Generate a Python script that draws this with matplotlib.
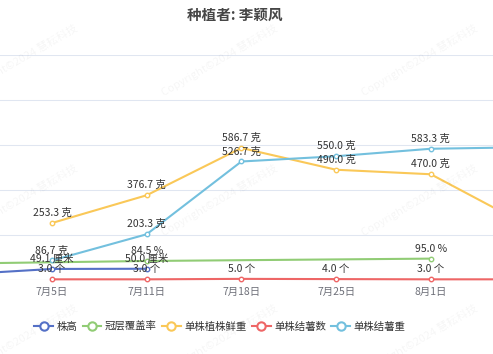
import matplotlib.pyplot as plt
from matplotlib.lines import Line2D

plt.rcParams['font.family'] = ['Noto Sans CJK SC', 'DejaVu Sans']

# ================= 数据 =================
dates = ['6月28日', '7月5日', '7月11日', '7月18日', '7月25日', '8月1日', '8月8日']
plant_height = [24.0, 49.1, 50.0, None, None, None, None]          # 株高 (厘米)
canopy_cover = [73.0, None, 84.5, None, None, 95.0, None]          # 冠层覆盖率 (%)
fresh_weight = [None, 253.3, 376.7, 586.7, 490.0, 470.0, 246.7]    # 单株植株鲜重 (克)
tuber_count = [None, 3.0, 3.0, 5.0, 4.0, 3.0, 3.0]                 # 单株结薯数 (个)
tuber_weight = [None, 86.7, 203.3, 526.7, 550.0, 583.3, 590.0]     # 单株结薯重 (克)

series = [
    ('株高', plant_height, '#5470c6', '厘米'),
    ('冠层覆盖率', canopy_cover, '#91cc75', '%'),
    ('单株植株鲜重', fresh_weight, '#fac858', '克'),
    ('单株结薯数', tuber_count, '#ee6666', '个'),
    ('单株结薯重', tuber_weight, '#73c0de', '克'),
]

W, H = 493, 354
fig = plt.figure(figsize=(W / 100, H / 100), dpi=100)

# 绘图区: y=0 在 280px, y=1000 在 55px; 类目间距约 94.7px
ax = fig.add_axes([0, (H - 280) / H, 1, 225 / H])

for y in range(200, 1001, 200):
    ax.axhline(y, color='#e0e6f1', lw=0.75, zorder=0)
ax.axhline(0, color='#6e7079', lw=0.75, zorder=1)

handles = []
for name, vals, color, unit in series:
    xs = [i for i, v in enumerate(vals) if v is not None]
    ys = [v for v in vals if v is not None]
    ax.plot(xs, ys, color=color, lw=1.5, marker='o', ms=3.2, mfc='white',
            mec=color, mew=1.0, zorder=3, clip_on=False)
    for x, y in zip(xs, ys):
        ax.annotate(f'{y:.1f} {unit}', (x, y), xytext=(0, 5),
                    textcoords='offset pixels', ha='center', va='bottom',
                    fontsize=7.5, color='#333333', zorder=4)
    handles.append(Line2D([], [], color=color, lw=1.5, marker='o', ms=6,
                          mfc='white', mec=color, mew=1.5, label=name))

ax.set_xticks(range(len(dates)))
ax.set_xticklabels(dates, fontsize=7.5, color='#6e7079')
ax.tick_params(axis='x', length=0, pad=5)
ax.set_yticks([])
for s in ax.spines.values():
    s.set_visible(False)

step = 94.7
ax.set_xlim(1 - 52 / step, 1 + (W - 52) / step)
ax.set_ylim(0, 1000)

fig.text(235 / W, 1 - 15 / H, '种植者: 李颖风', ha='center', va='center',
         fontsize=10.5, fontweight='bold', color='#464646')

fig.legend(handles=handles, loc='center', bbox_to_anchor=(220 / W, 1 - 327 / H),
           ncol=5, frameon=False, fontsize=7.5, handlelength=1.8,
           handletextpad=0.35, columnspacing=0.5, labelcolor='#333333')

# 水印
for wx in (-20, 180, 380):
    for wy in (60, 200, 340):
        fig.text((wx + 40) / W, 1 - wy / H, 'Copyright©2024 慧耘科技', rotation=30,
                 ha='center', va='center', fontsize=8, color='#000000', alpha=0.04)

fig.savefig('out.png', dpi=100)
